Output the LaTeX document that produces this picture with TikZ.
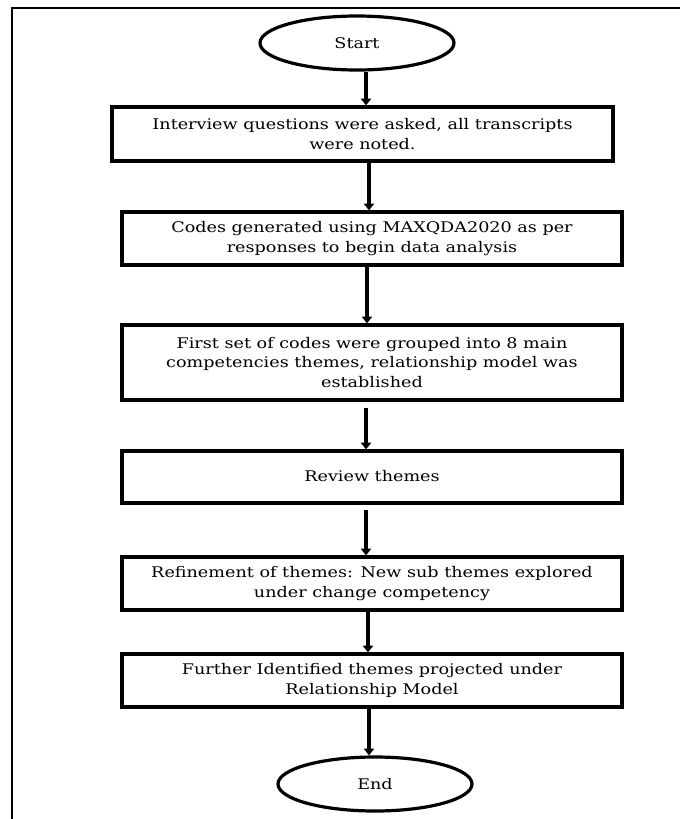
\documentclass[tikz,border=0pt]{standalone}
\usepackage{fontspec}
\setmainfont{DejaVu Serif}[FakeStretch=1.2]
\usetikzlibrary{arrows.meta,shapes.geometric}
\begin{document}
\begin{tikzpicture}[x=0.75pt,y=-0.75pt,
  txt/.style={font=\fontsize{11}{14.6}\selectfont},
  boxstyle/.style={draw,line width=2.4pt,rectangle,minimum width=375pt,inner sep=0pt,align=center,txt},
  termstyle/.style={draw,line width=2.4pt,ellipse,minimum width=145.5pt,minimum height=40.5pt,inner sep=0pt,txt},
  arr/.style={line width=2.6pt,-{Triangle[length=5pt,width=7.5pt]}},
  frame/.style={line width=1.6pt}]
\useasboundingbox (0,0) rectangle (680,819);
% outer frame (top and left edges visible)
\coordinate (fc) at (12,8);
\coordinate (fr) at (680,8);
\coordinate (fb) at (12,819);
\draw[frame] (fr) -- (fc) -- (fb);
% nodes
\node[termstyle] (start) at (357,43) {Start};
\node[boxstyle,minimum width=375.75pt,minimum height=40.5pt] (b1) at (362.5,134) {Interview questions were asked, all transcripts\\were noted.};
\node[boxstyle,minimum height=39.75pt] (b2) at (372,238.5) {Codes generated using MAXQDA2020 as per\\responses to begin data analysis};
\node[boxstyle,minimum height=56.25pt] (b3) at (372,362.5) {First set of codes were grouped into 8 main\\competencies themes, relationship model was\\established};
\node[boxstyle,minimum height=39pt] (b4) at (372,477) {\raisebox{2pt}{Review themes}};
\node[boxstyle,minimum height=39.75pt] (b5) at (372,583.5) {Refinement of themes: New sub themes explored\\under change competency};
\node[boxstyle,minimum height=39.75pt] (b6) at (372,680.5) {Further Identified themes projected under\\Relationship Model};
\node[termstyle] (end) at (375,784) {End};
% arrow x positions
\coordinate (a1) at (366,0);
\coordinate (a2) at (369,0);
\coordinate (a3) at (367,0);
\coordinate (a4) at (366,0);
\coordinate (a5) at (368,0);
\coordinate (a6) at (369,0);
\draw[arr] (start.south -| a1) -- (b1.north -| a1);
\draw[arr] (b1.south -| a2) -- (b2.north -| a2);
\draw[arr] (b2.south -| a3) -- (b3.north -| a3);
\draw[arr] (b3.south -| a4) ++(0,6) -- (b4.north -| a4);
\draw[arr] (b4.south -| a4) ++(0,5) -- (b5.north -| a4);
\draw[arr] (b5.south -| a5) -- (b6.north -| a5);
\draw[arr] (b6.south -| a6) -- (end.north -| a6);
\end{tikzpicture}
\end{document}
